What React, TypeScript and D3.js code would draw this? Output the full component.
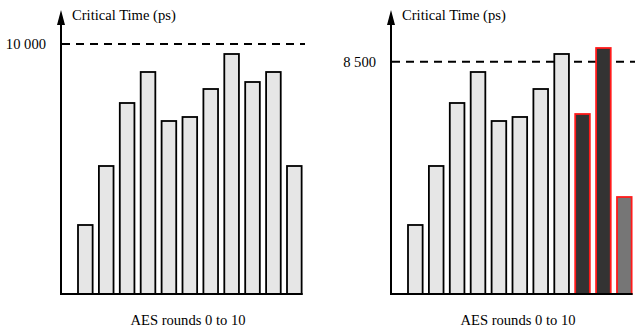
import React, { useEffect, useRef } from 'react';
import * as d3 from 'd3';

// AES rounds 0..10
const rounds = ['0', '1', '2', '3', '4', '5', '6', '7', '8', '9', '10'];

// left panel: critical time per round (ps)
const leftValues = [2760, 5120, 7640, 8880, 6920, 7080, 8200, 9600, 8480, 8880, 5120];
const leftLimit = 10000;
const leftLimitLabel = '10 000';

// right panel: rounds 8-10 re-balanced
const rightValues = [2525, 4684, 6989, 8123, 6330, 6477, 7501, 8782, 6586, 9001, 3549];
const rightLimit = 8500;
const rightLimitLabel = '8 500';
// 0 = normal, 1 = highlighted dark, 2 = highlighted grey
const rightKinds = [0, 0, 0, 0, 0, 0, 0, 0, 1, 1, 2];

const yTitle = 'Critical Time (ps)';
const xTitle = 'AES rounds 0 to 10';

const width = 635;
const height = 330;
const serif = "'Liberation Serif', 'Times New Roman', Times, 'DejaVu Serif', serif";
const fontSize = '14.6px';

export default function App() {
  const svgRef = useRef<SVGSVGElement>(null);

  useEffect(() => {
    if (!svgRef.current) return;
    const svg = d3.select(svgRef.current);
    svg.selectAll('*').remove();

    const base = 294;

    const drawPanel = (ox: number, values: number[], limit: number, limitLabel: string, limitY: number, kinds: number[] | null) => {
      const g = svg.append('g').attr('transform', `translate(${ox},0)`);
      const axisX = 61;

      const x = d3.scaleBand<string>()
        .domain(rounds)
        .range([78, 78 + 20.9 * 10.7])
        .paddingInner(0.3)
        .paddingOuter(0);
      const y = d3.scaleLinear().domain([0, limit]).range([base, limitY]);

      // dashed limit line
      g.append('line')
        .attr('x1', axisX + 1).attr('x2', 305)
        .attr('y1', y(limit)).attr('y2', y(limit))
        .attr('stroke', '#000').attr('stroke-width', 2)
        .attr('stroke-dasharray', '8,6');

      g.append('text')
        .attr('x', axisX - 15).attr('y', y(limit))
        .attr('dy', '0.35em')
        .attr('text-anchor', 'end')
        .style('font-family', serif)
        .style('font-size', fontSize)
        .text(limitLabel);

      // bars
      g.selectAll('rect.bar')
        .data(values)
        .join('rect')
        .attr('class', 'bar')
        .attr('x', (d, i) => x(rounds[i])!)
        .attr('width', x.bandwidth())
        .attr('y', d => y(d))
        .attr('height', d => base - y(d))
        .attr('fill', (d, i) => {
          const k = kinds ? kinds[i] : 0;
          return k === 1 ? '#333333' : k === 2 ? '#767676' : '#e6e6e6';
        })
        .attr('stroke', (d, i) => (kinds && kinds[i] > 0 ? '#ff1a1a' : '#000'))
        .attr('stroke-width', 1.8);

      // baseline
      g.append('line')
        .attr('x1', axisX).attr('x2', x.range()[1] + 1)
        .attr('y1', base).attr('y2', base)
        .attr('stroke', '#000').attr('stroke-width', 2.2);

      // y axis with arrow
      g.append('line')
        .attr('x1', axisX).attr('x2', axisX)
        .attr('y1', base + 1).attr('y2', 20)
        .attr('stroke', '#000').attr('stroke-width', 2);
      g.append('path')
        .attr('d', `M${axisX},10 L${axisX - 4},25 L${axisX + 4},25 Z`)
        .attr('fill', '#000');

      g.append('text')
        .attr('x', axisX + 11).attr('y', 20)
        .style('font-family', serif)
        .style('font-size', fontSize)
        .text(yTitle);

      g.append('text')
        .attr('x', 188).attr('y', 325)
        .attr('text-anchor', 'middle')
        .style('font-family', serif)
        .style('font-size', fontSize)
        .text(xTitle);
    };

    drawPanel(0, leftValues, leftLimit, leftLimitLabel, 44, null);
    drawPanel(330, rightValues, rightLimit, rightLimitLabel, 61.7, rightKinds);
  }, []);

  return (
    <div style={{ position: 'fixed', left: 0, top: 0, width, height, background: '#fff' }}>
      <svg ref={svgRef} width={width} height={height}></svg>
    </div>
  );
}
